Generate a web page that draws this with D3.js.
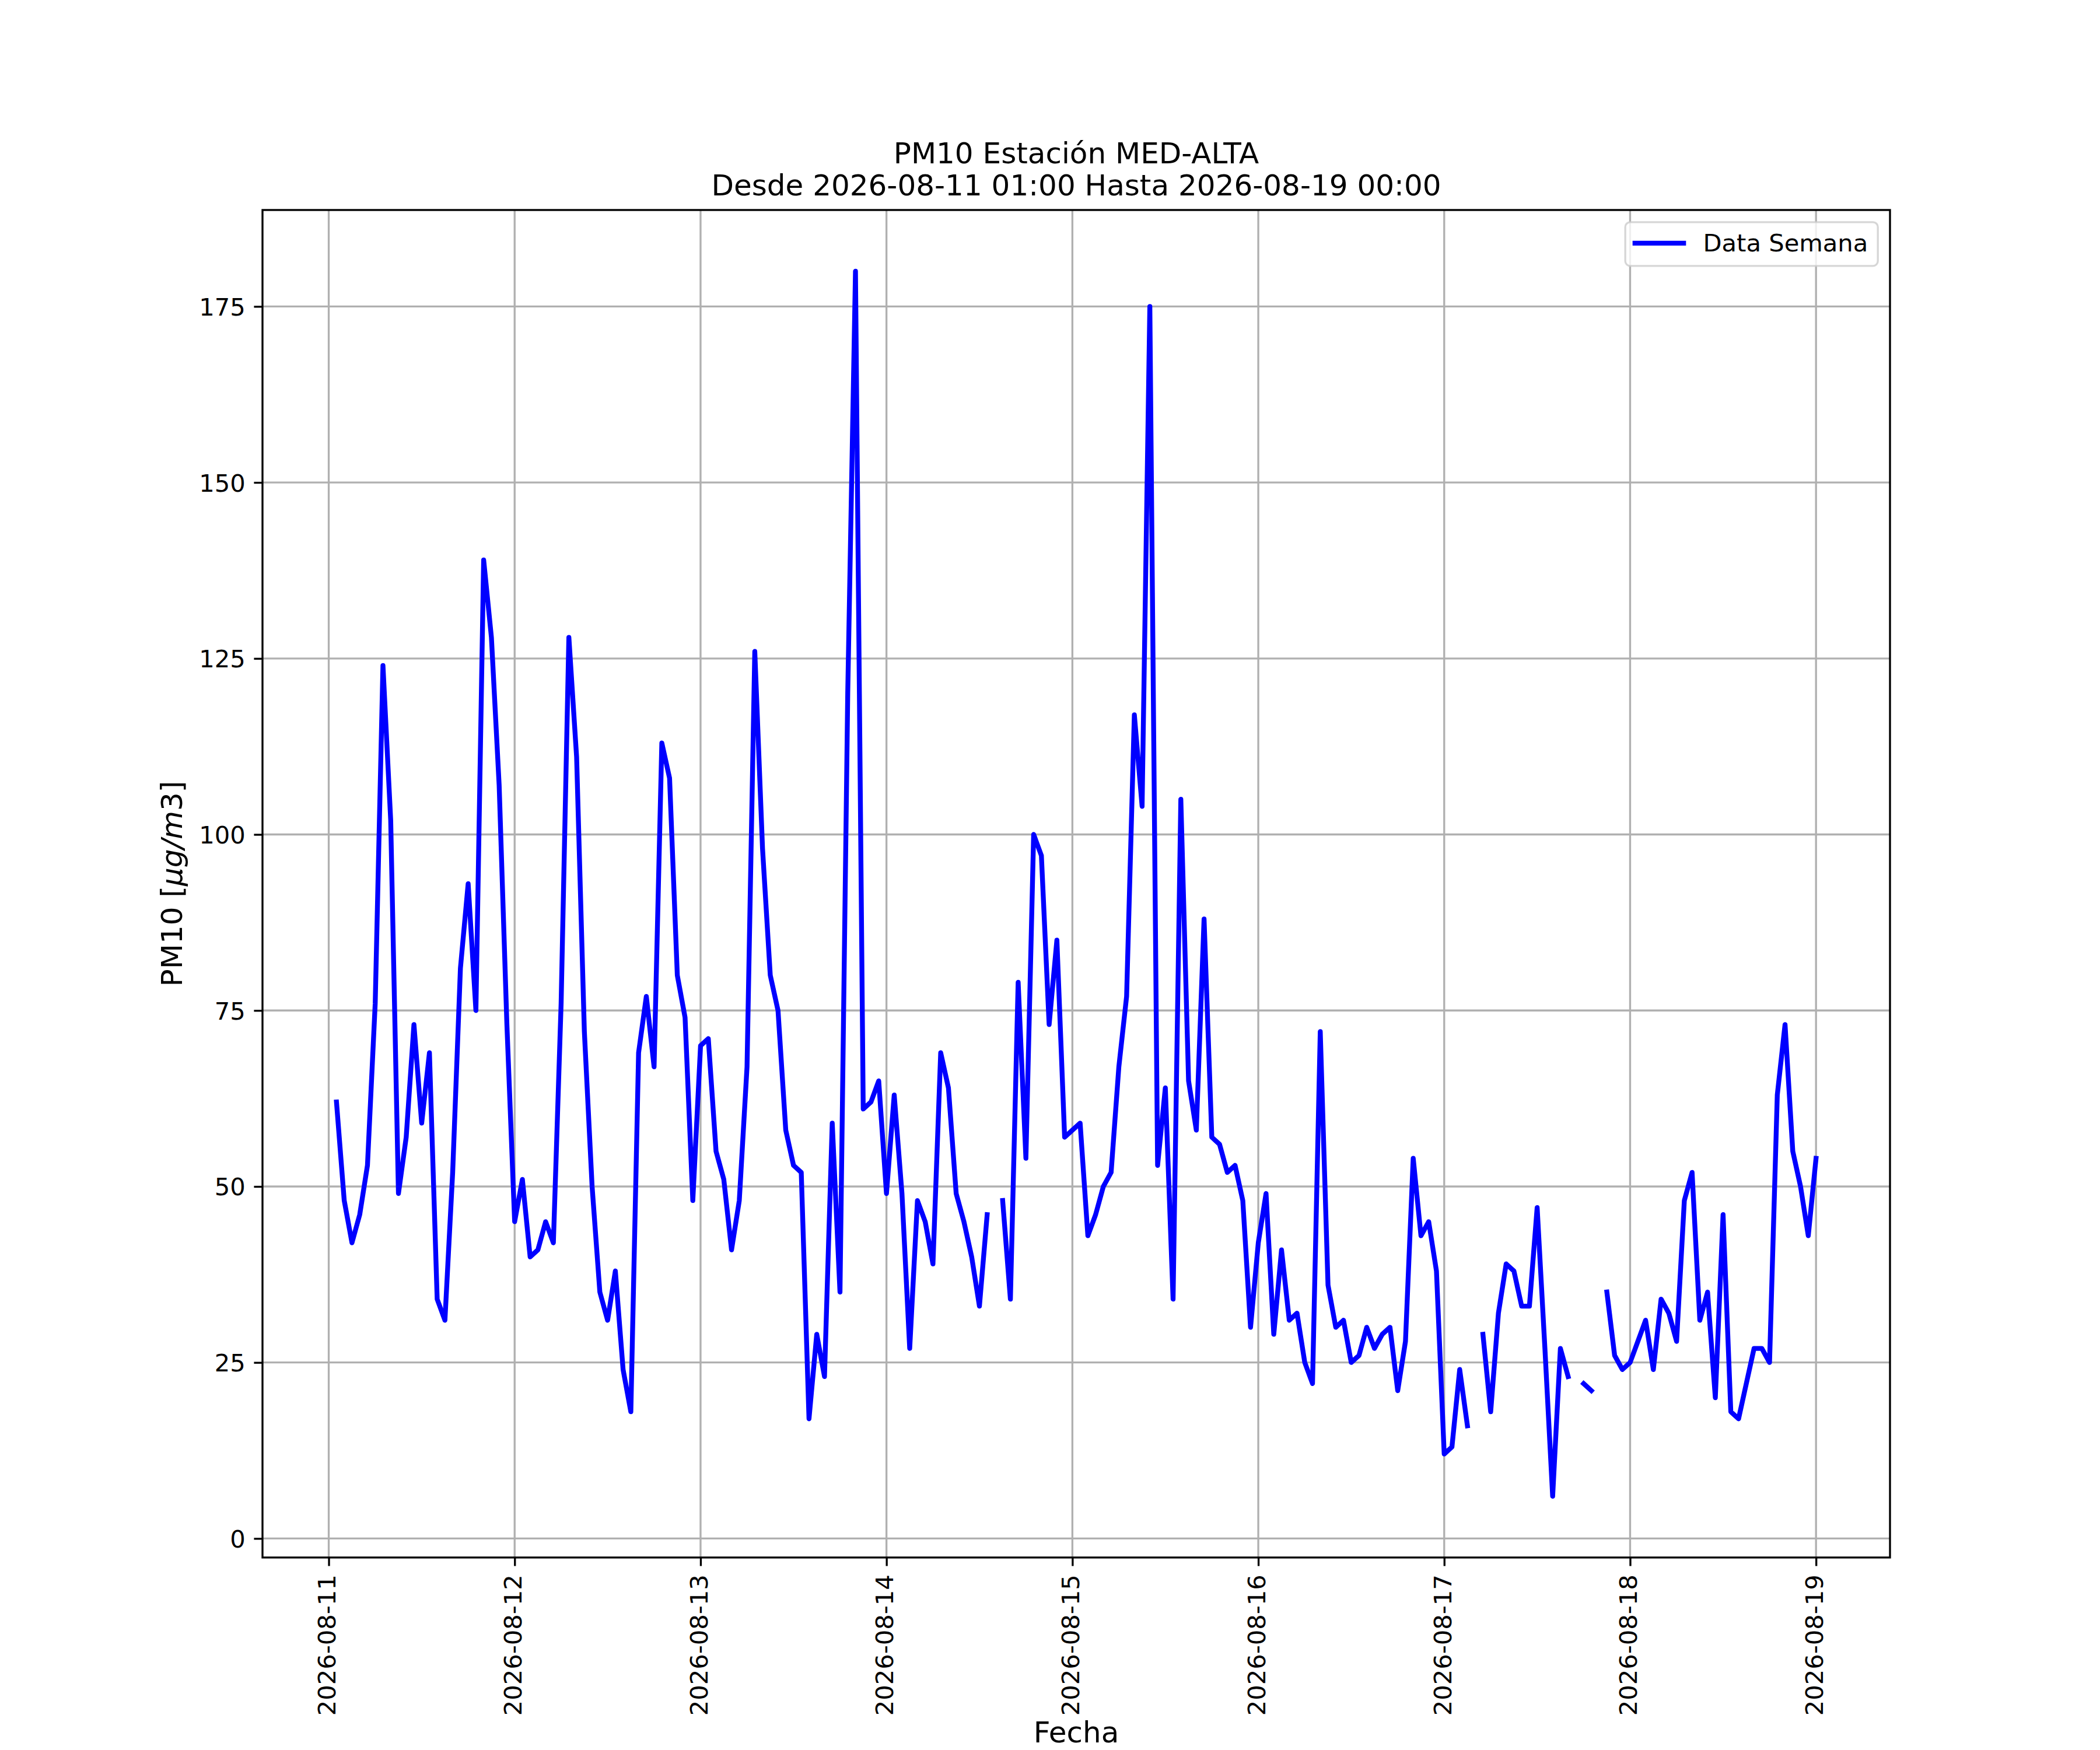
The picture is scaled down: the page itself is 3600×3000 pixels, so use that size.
<!DOCTYPE html>
<html>
<head>
<meta charset="utf-8">
<script src="https://cdn.jsdelivr.net/npm/d3@7"></script>
<style>
  body { margin: 0; background: #fff; }
  text { font-family: "DejaVu Sans", sans-serif; }
</style>
</head>
<body>
<div id="chart"></div>
<script>
// datos horarios PM10 (null = sin dato)
const inicio = Date.UTC(2026, 7, 11, 1); // 2026-08-11 01:00
const pm10 = [
    // 11 ago 01:00 .. 12 ago 00:00
    62, 48, 42, 46, 53, 76, 124, 102, 49, 57, 73, 59, 69, 34, 31, 52, 81, 93, 75, 139, 128, 107, 73, 45,
    // 12 ago
    51, 40, 41, 45, 42, 76, 128, 111, 72, 50, 35, 31, 38, 24, 18, 69, 77, 67, 113, 108, 80, 74, 48, 70,
    // 13 ago
    71, 55, 51, 41, 48, 67, 126, 98, 80, 75, 58, 53, 52, 17, 29, 23, 59, 35, 120, 180, 61, 62, 65, 49,
    // 14 ago
    63, 49, 27, 48, 45, 39, 69, 64, 49, 45, 40, 33, 46, null, 48, 34, 79, 54, 100, 97, 73, 85, 57, 58,
    // 15 ago
    59, 43, 46, 50, 52, 67, 77, 117, 104, 175, 53, 64, 34, 105, 65, 58, 88, 57, 56, 52, 53, 48, 30, 42,
    // 16 ago
    49, 29, 41, 31, 32, 25, 22, 72, 36, 30, 31, 25, 26, 30, 27, 29, 30, 21, 28, 54, 43, 45, 38, 12,
    // 17 ago
    13, 24, 16, null, 29, 18, 32, 39, 38, 33, 33, 47, 27, 6, 27, 23, null, 22, 21, null, 35, 26, 24, 25,
    // 18 ago
    28, 31, 24, 34, 32, 28, 48, 52, 31, 35, 20, 46, 18, 17, 22, 27, 27, 25, 63, 73, 55, 50, 43, 54
];
const yTicks = [0, 25, 50, 75, 100, 125, 150, 175];
const titulo = ["PM10 Estación MED-ALTA", "Desde 2026-08-11 01:00 Hasta 2026-08-19 00:00"];
const etiquetaX = "Fecha";
const serieNombre = "Data Semana";

const W = 3600, H = 3000;
const margin = { top: 360, right: 360, bottom: 330, left: 450 };
const width = W - margin.left - margin.right;
const height = H - margin.top - margin.bottom;
const pt = 300 / 72; // px por punto

const svgRoot = d3.select("#chart")
    .append("svg")
    .attr("width", W)
    .attr("height", H)
    .style("display", "block");

svgRoot.append("rect").attr("width", W).attr("height", H).attr("fill", "#fff");

const svg = svgRoot.append("g")
    .attr("transform", `translate(${margin.left},${margin.top})`);

const datos = pm10.map((v, i) => ({ t: new Date(inicio + i * 3600e3), v: v }));

// escalas con margen del 5% como matplotlib
const t0 = +datos[0].t, t1 = +datos[datos.length - 1].t;
const padT = (t1 - t0) * 0.05;
const x = d3.scaleUtc()
    .domain([new Date(t0 - padT), new Date(t1 + padT)])
    .range([0, width]);

const vals = pm10.filter(v => v != null);
const lo = d3.min(vals), hi = d3.max(vals), padY = (hi - lo) * 0.05;
const y = d3.scaleLinear()
    .domain([lo - padY, hi + padY])
    .range([height, 0]);

const xTicks = x.ticks(d3.utcDay.every(1));

// rejilla
svg.append("g").selectAll("line")
    .data(xTicks)
    .enter().append("line")
    .attr("x1", d => x(d)).attr("x2", d => x(d))
    .attr("y1", 0).attr("y2", height)
    .attr("stroke", "#b0b0b0").attr("stroke-width", 0.8 * pt);

svg.append("g").selectAll("line")
    .data(yTicks)
    .enter().append("line")
    .attr("x1", 0).attr("x2", width)
    .attr("y1", d => y(d)).attr("y2", d => y(d))
    .attr("stroke", "#b0b0b0").attr("stroke-width", 0.8 * pt);

// serie
const line = d3.line()
    .defined(d => d.v != null)
    .x(d => x(d.t))
    .y(d => y(d.v));

svg.append("path")
    .datum(datos)
    .attr("fill", "none")
    .attr("stroke", "#0000ff")
    .attr("stroke-width", 2 * pt)
    .attr("stroke-linejoin", "round")
    .attr("stroke-linecap", "square")
    .attr("d", line);

// ejes
const tickLen = 3.5 * pt, tickPad = 3.5 * pt, fsTick = 10 * pt;

const xAxis = svg.append("g")
    .attr("transform", `translate(0,${height})`)
    .call(d3.axisBottom(x)
        .tickValues(xTicks)
        .tickFormat(d3.utcFormat("%Y-%m-%d"))
        .tickSize(tickLen)
        .tickSizeOuter(0));

xAxis.select(".domain").remove();
xAxis.selectAll(".tick line").attr("stroke", "#000").attr("stroke-width", 0.8 * pt);
xAxis.selectAll(".tick text")
    .attr("fill", "#000")
    .attr("font-size", fsTick)
    .attr("font-family", "DejaVu Sans")
    .attr("y", 0)
    .attr("x", -(tickLen + tickPad))
    .attr("dy", "0.27em")
    .attr("transform", "rotate(-90)")
    .style("text-anchor", "end");

const yAxis = svg.append("g")
    .call(d3.axisLeft(y)
        .tickValues(yTicks)
        .tickSize(tickLen)
        .tickPadding(tickPad)
        .tickSizeOuter(0));

yAxis.select(".domain").remove();
yAxis.selectAll(".tick line").attr("stroke", "#000").attr("stroke-width", 0.8 * pt);
yAxis.selectAll(".tick text")
    .attr("fill", "#000")
    .attr("font-size", fsTick)
    .attr("font-family", "DejaVu Sans")
    .attr("dy", "0.36em");

// marco
svg.append("rect")
    .attr("width", width)
    .attr("height", height)
    .attr("fill", "none")
    .attr("stroke", "#000")
    .attr("stroke-width", 0.8 * pt);

// títulos
svgRoot.append("g").selectAll("text")
    .data(titulo)
    .enter().append("text")
    .attr("x", margin.left + width / 2)
    .attr("y", (d, i) => 280 + i * 55)
    .attr("text-anchor", "middle")
    .attr("font-size", 12 * pt)
    .attr("fill", "#000")
    .text(d => d);

svgRoot.append("text")
    .attr("x", margin.left + width / 2)
    .attr("y", 2987)
    .attr("text-anchor", "middle")
    .attr("font-size", 12 * pt)
    .attr("fill", "#000")
    .text(etiquetaX);

const yLab = svgRoot.append("text")
    .attr("transform", `translate(312,${margin.top + height / 2}) rotate(-90)`)
    .attr("text-anchor", "middle")
    .attr("font-size", 12 * pt)
    .attr("fill", "#000");
yLab.append("tspan").text("PM10 [");
yLab.append("tspan").attr("font-style", "italic").text("μg/m");
yLab.append("tspan").text("3]");

// leyenda
const fsLeg = 10 * pt;
const legW = 433, legH = 75;
const legX = margin.left + width - 0.5 * fsLeg - legW;
const legY = margin.top + 0.5 * fsLeg;
const leg = svgRoot.append("g").attr("transform", `translate(${legX},${legY})`);

leg.append("rect")
    .attr("width", legW)
    .attr("height", legH)
    .attr("rx", 0.2 * fsLeg)
    .attr("fill", "#fff")
    .attr("fill-opacity", 0.8)
    .attr("stroke", "#cccccc")
    .attr("stroke-opacity", 0.8)
    .attr("stroke-width", 0.8 * pt);

leg.append("line")
    .attr("x1", 0.4 * fsLeg)
    .attr("x2", 2.4 * fsLeg)
    .attr("y1", 36)
    .attr("y2", 36)
    .attr("stroke", "#0000ff")
    .attr("stroke-width", 2 * pt)
    .attr("stroke-linecap", "square");

leg.append("text")
    .attr("x", 3.2 * fsLeg)
    .attr("y", 50)
    .attr("font-size", fsLeg)
    .attr("fill", "#000")
    .text(serieNombre);
</script>
</body>
</html>
